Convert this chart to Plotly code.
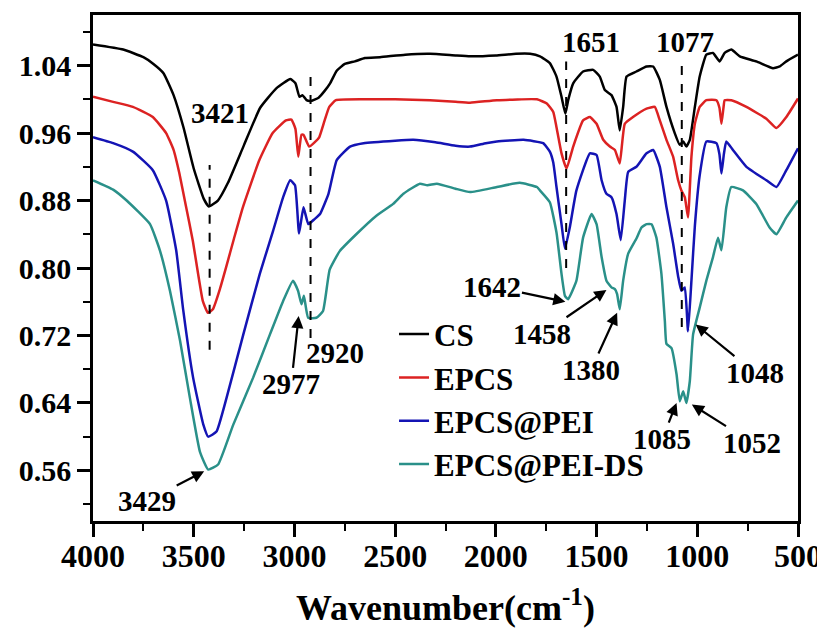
import plotly.graph_objects as go

# ---------------- data (wavenumber in cm-1, transmittance) ----------------
series_names = ["CS", "EPCS", "EPCS@PEI", "EPCS@PEI-DS"]
series_colors = ["#000000", "#dc2222", "#1414b4", "#2a9089"]

cs_wn = [4000, 3850, 3750, 3700, 3650, 3600, 3550, 3500, 3450, 3425, 3380, 3330, 3250, 3170,
         3090, 3020, 2995, 2975, 2960, 2940, 2920, 2880, 2850, 2823, 2790, 2750, 2700, 2650,
         2575, 2450, 2327, 2200, 2128, 2000, 1900, 1830, 1781, 1732, 1699, 1674, 1655, 1641,
         1616, 1567, 1517, 1484, 1459, 1426, 1401, 1385, 1368, 1351, 1302, 1252, 1219, 1186,
         1153, 1112, 1087, 1070, 1054, 1037, 1012, 988, 955, 922, 889, 864, 831, 789, 707,
         624, 591, 558, 500]
cs_t = [1.065, 1.059, 1.050, 1.042, 1.031, 1.005, 0.966, 0.918, 0.882, 0.873, 0.880, 0.901,
        0.946, 0.990, 1.013, 1.024, 1.019, 1.003, 1.005, 0.999, 0.998, 1.002, 1.010, 1.019,
        1.034, 1.042, 1.045, 1.049, 1.050, 1.053, 1.054, 1.052, 1.051, 1.052, 1.054, 1.054,
        1.051, 1.043, 1.027, 1.003, 0.983, 0.999, 1.019, 1.033, 1.035, 1.027, 1.011, 1.005,
        0.991, 0.963, 0.991, 1.027, 1.033, 1.039, 1.039, 1.023, 0.991, 0.960, 0.946, 0.950,
        0.944, 0.952, 0.991, 1.027, 1.053, 1.055, 1.045, 1.055, 1.059, 1.051, 1.045, 1.037,
        1.039, 1.045, 1.053]

epcs_wn = [4000, 3900, 3802, 3703, 3637, 3600, 3571, 3540, 3505, 3455, 3430, 3405, 3370, 3339,
           3300, 3256, 3174, 3108, 3042, 3015, 2995, 2981, 2965, 2955, 2927, 2900, 2877, 2850,
           2827, 2794, 2657, 2500, 2327, 2200, 2128, 1995, 1796, 1747, 1715, 1699, 1674, 1649,
           1616, 1567, 1533, 1500, 1467, 1434, 1409, 1385, 1360, 1319, 1252, 1211, 1186, 1153,
           1120, 1095, 1079, 1062, 1046, 1029, 1012, 988, 955, 905, 890, 880, 870, 864, 831,
           756, 657, 607, 558, 500]
epcs_t = [1.003, 0.997, 0.991, 0.979, 0.960, 0.940, 0.912, 0.875, 0.833, 0.761, 0.747, 0.751,
          0.775, 0.801, 0.835, 0.872, 0.928, 0.960, 0.975, 0.976, 0.965, 0.932, 0.958, 0.958,
          0.944, 0.949, 0.955, 0.975, 0.991, 0.999, 1.000, 1.000, 0.999, 0.997, 0.996, 0.999,
          1.000, 0.995, 0.985, 0.967, 0.936, 0.918, 0.944, 0.975, 0.979, 0.971, 0.952, 0.944,
          0.940, 0.924, 0.971, 0.979, 0.989, 0.991, 0.975, 0.952, 0.932, 0.904, 0.892, 0.884,
          0.860, 0.932, 0.971, 0.991, 0.999, 0.999, 0.990, 0.971, 0.990, 0.999, 0.999, 0.991,
          0.977, 0.966, 0.979, 1.001]

pei_wn = [4000, 3900, 3802, 3703, 3637, 3587, 3552, 3503, 3453, 3428, 3387, 3337, 3254, 3172,
          3106, 3056, 3021, 2997, 2977, 2955, 2931, 2900, 2873, 2831, 2790, 2724, 2657, 2500,
          2410, 2300, 2200, 2128, 2050, 1995, 1862, 1765, 1732, 1715, 1699, 1674, 1657, 1633,
          1600, 1533, 1500, 1475, 1451, 1426, 1401, 1380, 1360, 1343, 1302, 1252, 1219, 1186,
          1153, 1120, 1095, 1079, 1062, 1046, 1029, 1012, 988, 955, 905, 890, 880, 868, 856,
          823, 756, 657, 607, 558, 500]
pei_t = [0.955, 0.948, 0.938, 0.916, 0.880, 0.821, 0.750, 0.670, 0.615, 0.600, 0.606, 0.646,
         0.721, 0.793, 0.844, 0.884, 0.904, 0.898, 0.841, 0.872, 0.852, 0.858, 0.864, 0.888,
         0.928, 0.944, 0.948, 0.951, 0.952, 0.949, 0.945, 0.944, 0.948, 0.950, 0.952, 0.948,
         0.938, 0.925, 0.896, 0.852, 0.823, 0.848, 0.892, 0.936, 0.934, 0.904, 0.888, 0.884,
         0.864, 0.833, 0.880, 0.914, 0.920, 0.936, 0.940, 0.920, 0.872, 0.829, 0.790, 0.773,
         0.777, 0.725, 0.785, 0.850, 0.910, 0.950, 0.948, 0.935, 0.912, 0.935, 0.950, 0.940,
         0.920, 0.904, 0.896, 0.916, 0.942]

ds_wn = [4000, 3900, 3833, 3717, 3668, 3618, 3568, 3519, 3469, 3428, 3379, 3304, 3205, 3122,
         3056, 3007, 2982, 2965, 2953, 2932, 2891, 2858, 2825, 2775, 2693, 2593, 2510, 2459,
         2377, 2340, 2293, 2200, 2128, 1995, 1881, 1796, 1781, 1732, 1699, 1674, 1657, 1641,
         1600, 1567, 1525, 1500, 1475, 1451, 1426, 1409, 1398, 1385, 1368, 1343, 1302, 1277,
         1252, 1227, 1203, 1178, 1161, 1153, 1128, 1103, 1087, 1070, 1054, 1037, 1021, 988,
         955, 922, 897, 880, 856, 831, 773, 707, 641, 607, 558, 500]
ds_t = [0.904, 0.893, 0.880, 0.852, 0.821, 0.773, 0.714, 0.646, 0.582, 0.561, 0.567, 0.614,
        0.670, 0.721, 0.761, 0.785, 0.773, 0.757, 0.767, 0.741, 0.741, 0.749, 0.798, 0.820,
        0.840, 0.862, 0.876, 0.888, 0.900, 0.898, 0.900, 0.894, 0.890, 0.896, 0.901, 0.896,
        0.892, 0.878, 0.842, 0.793, 0.767, 0.763, 0.785, 0.836, 0.864, 0.852, 0.813, 0.785,
        0.777, 0.775, 0.769, 0.751, 0.785, 0.817, 0.835, 0.848, 0.852, 0.852, 0.836, 0.793,
        0.737, 0.710, 0.705, 0.674, 0.642, 0.654, 0.640, 0.666, 0.721, 0.753, 0.785, 0.813,
        0.836, 0.821, 0.872, 0.896, 0.892, 0.876, 0.848, 0.840, 0.860, 0.880]

# dashed marker lines: wavenumber, lower and upper transmittance
dash_wn = [3421, 2920, 1651, 1077]
dash_lo = [0.703, 0.717, 0.800, 0.730]
dash_hi = [0.922, 1.027, 1.045, 1.043]

# plain peak labels (no arrow)
label_text = ["3421", "1651", "1077", "2920"]
label_x = [3369, 1528, 1062, 2798]
label_y = [0.984, 1.068, 1.068, 0.699]

# arrowed peak labels: label centre and arrow tip
arrow_text = ["3429", "2977", "1642", "1458", "1380", "1048", "1085", "1052"]
arrow_lx = [3731, 3016, 2017, 1769, 1528, 715, 1174, 727]
arrow_ly = [0.524, 0.662, 0.778, 0.722, 0.679, 0.676, 0.597, 0.593]
arrow_hx = [3448, 2979, 1655, 1451, 1398, 1008, 1103, 1027]
arrow_hy = [0.559, 0.743, 0.760, 0.774, 0.747, 0.733, 0.640, 0.638]

# ---------------- figure ----------------
FONT = "Liberation Serif"
LABEL_FONT = dict(family=FONT, size=29, color="black", weight="bold")

fig = go.Figure()
for name, color, xs, ys in zip(series_names, series_colors,
                               [cs_wn, epcs_wn, pei_wn, ds_wn],
                               [cs_t, epcs_t, pei_t, ds_t]):
    fig.add_trace(go.Scatter(x=xs, y=ys, mode="lines", name=name,
                             line=dict(color=color, width=2.5, shape="spline", smoothing=0.4)))

for xw, lo, hi in zip(dash_wn, dash_lo, dash_hi):
    fig.add_shape(type="line", xref="x", yref="y", x0=xw, x1=xw, y0=lo, y1=hi,
                  line=dict(color="black", width=2, dash="dash"))

annots = []
for t, x, y in zip(label_text, label_x, label_y):
    annots.append(dict(x=x, y=y, xref="x", yref="y", text=t, showarrow=False,
                       font=LABEL_FONT))
for t, lx, ly, hx, hy in zip(arrow_text, arrow_lx, arrow_ly, arrow_hx, arrow_hy):
    annots.append(dict(x=hx, y=hy, ax=lx, ay=ly, xref="x", yref="y", axref="x", ayref="y",
                       text=t, font=LABEL_FONT, borderpad=0,
                       showarrow=True, arrowhead=2, arrowsize=1.1, arrowwidth=2.2,
                       arrowcolor="black", standoff=0, startstandoff=0))

# the page adds an 8 px body margin, so the figure is 8 px smaller and shifted
fig.update_layout(
    width=817, height=620,
    margin=dict(l=85, r=27, t=7, b=107, autoexpand=False),
    paper_bgcolor="white", plot_bgcolor="white",
    font=dict(family=FONT, color="black", weight="bold"),
    showlegend=True,
    legend=dict(x=0.427, y=0.422, xanchor="left", yanchor="top",
                bgcolor="rgba(0,0,0,0)", borderwidth=0, tracegroupgap=0,
                font=dict(family=FONT, size=31, color="black", weight="bold")),
    annotations=annots,
    xaxis=dict(range=[4000, 500], tick0=500, dtick=500, showgrid=False, zeroline=False,
               automargin=False,
               showline=True, linewidth=2.5, linecolor="black", mirror=True,
               ticks="outside", ticklen=13, tickwidth=2.5, tickcolor="black",
               ticklabelstandoff=-8,
               minor=dict(dtick=250, ticks="outside", ticklen=7, tickwidth=2.2, tickcolor="black"),
               tickfont=dict(family=FONT, size=32, color="black", weight="bold"),
               title=dict(text="Wavenumber(cm<sup>-1</sup>)", standoff=26,
                          font=dict(family=FONT, size=36, color="black", weight="bold"))),
    yaxis=dict(range=[0.50, 1.10], tick0=0.56, dtick=0.08, tickformat=".2f",
               showgrid=False, zeroline=False, automargin=False,
               showline=True, linewidth=2.5, linecolor="black", mirror=True,
               ticks="outside", ticklen=13, tickwidth=2.5, tickcolor="black",
               minor=dict(tick0=0.52, dtick=0.04, ticks="outside", ticklen=7, tickwidth=2.2,
                          tickcolor="black"),
               tickfont=dict(family=FONT, size=30, color="black", weight="bold")),
)

fig.write_html("out.html")
